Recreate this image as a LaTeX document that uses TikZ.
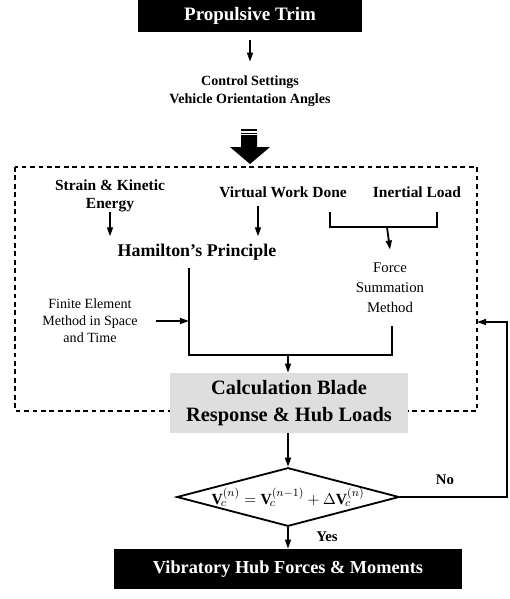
\documentclass[tikz,border=0pt]{standalone}
\usepackage{fontspec}
\setmainfont{Liberation Serif}
\usetikzlibrary{arrows.meta,shapes.geometric}
\newcommand\fsz[2]{\fontsize{#1}{#2}\selectfont}

\tikzset{
  flow/.style={line width=1.3pt},
  arr/.style={flow,-{Triangle[length=6.5pt,width=4.2pt]}},
  dashbox/.style={line width=1pt,dash pattern=on 3.4pt off 2.6pt},
  blackbox/.style={fill=black,text=white,inner sep=0pt,font=\bfseries\fsz{13.5}{16}},
  txt/.style={align=center,inner sep=0pt},
  headtxt/.style={txt,font=\bfseries\fsz{11}{12.8}},
  plaintxt/.style={txt,font=\fsz{10.5}{14.2}},
  calcbox/.style={fill=black!13,align=center,inner sep=0pt,font=\bfseries\fsz{14.5}{19}},
  decision/.style={diamond,draw,flow,inner sep=0pt,aspect=3.8,minimum width=5.5cm,minimum height=1.45cm,font=\bfseries\fsz{11}{13}}
}

\begin{document}
\begin{tikzpicture}[x=0.025cm,y=-0.025cm]
			\useasboundingbox (0,0) rectangle (510,599);
			%%%%% START %%%%%
			
			\node[blackbox,minimum width=5.6cm,minimum height=0.8cm] (trim) at (250,16) {Propulsive Trim};
			\node[headtxt,font=\bfseries\fsz{10}{12.8},inner ysep=0.34cm] (ctrl) at (250,91) {Control Settings\\Vehicle Orientation Angles};
			\draw[arr,shorten <=0.2cm] (trim) -- (ctrl);
			
			\fill (241,129) rectangle (257,131);
			\fill (241,132.5) rectangle (257,134);
			\fill (241,135) -- (257,135) -- (257,147) -- (270,147) -- (250,164) -- (230,147) -- (241,147) -- cycle;
			
			\draw[dashbox] (15,167) rectangle (477,411);
			
			\node[headtxt] (strain) at (110,196) {Strain \& Kinetic\\Energy};
			\node[headtxt,inner ysep=0.2cm] (virtual) at (283,192) {Virtual Work Done};
			\node[headtxt] (inertial) at (417,192) {Inertial Load};
			\node[txt,font=\bfseries\fsz{12.7}{15},inner ysep=0.18cm] (hamilton) at (197,252) {Hamilton's Principle};
			\node[plaintxt,inner ysep=0.33cm] (force) at (390,288) {Force\\Summation\\Method};
			\node[plaintxt,font=\fsz{10}{12},inner xsep=0.45cm] (fem) at (90,321) {Finite Element\\Method in Space\\and Time};
			
			\draw[arr] (strain.south) -- (strain.south |- hamilton.north);
			\draw[arr] ([xshift=-0.625cm]virtual.south) -- ([xshift=-0.625cm]virtual.south |- hamilton.north);
			
			\coordinate (brL) at (330,212);
			\coordinate (brR) at (437,212);
			\coordinate (brM) at (387,227);
			\draw[flow] (brL) |- (brM) -| (brR);
			\draw[arr] (brM) -- (force.north);
			
			\coordinate (jL) at (189,355);
			\coordinate (jR) at (392,355);
			\coordinate (jM) at (288,355);
			\draw[flow] (hamilton.south -| jL) -- (jL) -- (jR) -- (force.south -| jR);
			\draw[arr] (fem.east) -- (fem.east -| jL);
			
			\node[calcbox,minimum width=5.95cm,minimum height=1.5cm] (calc) at (289,403) {Calculation Blade\\Response \& Hub Loads};
			\draw[arr] (jM) -- (jM |- calc.north);
			
			\node[decision] (check) at (288,497) {$\mathbf{V}_{\!c}^{(n)} = \mathbf{V}_{\!c}^{(n-1)} + \Delta\mathbf{V}_{\!c}^{(n)}$};
			\draw[arr] (calc.south -| check.north) -- (check.north);
			
			\coordinate (loopin) at (477,322);
			\coordinate (loopout) at (507,497);
			\node[headtxt,font=\bfseries\fsz{10.5}{12}] (no) at (445,480) {No};
			\draw[arr] (check.east) -- (check.east -| loopout) |- (loopin);
			
			\node[blackbox,font=\bfseries\fsz{13}{15},minimum width=8.7cm,minimum height=1cm] (hub) at (288,569) {Vibratory Hub Forces \& Moments};
			\node[headtxt,font=\bfseries\fsz{10.5}{12}] (yes) at (327,537) {Yes};
			\draw[arr] (check.south) -- (hub.north);
			
			%%%%% END %%%%%
		\end{tikzpicture}
\end{document}
